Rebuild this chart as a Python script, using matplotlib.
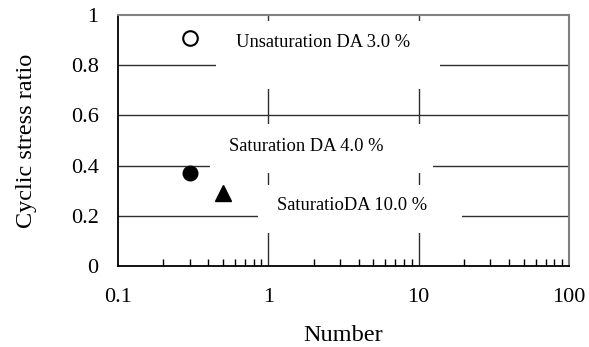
import matplotlib.pyplot as plt
from matplotlib.patches import Rectangle
from matplotlib.ticker import LogLocator, NullFormatter, FixedLocator

plt.rcParams['font.family'] = ['Liberation Serif', 'DejaVu Serif']

# data
unsat_n = [0.3]
unsat_csr = [0.91]
sat4_n = [0.3]
sat4_csr = [0.37]
sat10_n = [0.5]
sat10_csr = [0.29]

labels = ["Unsaturation DA 3.0 %", "Saturation DA 4.0 %", "SaturatioDA 10.0 %"]

fig = plt.figure(figsize=(5.89, 3.47), dpi=100)
ax = fig.add_axes([0.2003, 0.2334, 0.7657, 0.7234])

ax.set_xscale('log')
ax.set_xlim(0.1, 100)
ax.set_ylim(0, 1)

# grid
for y in [0.2, 0.4, 0.6, 0.8]:
    ax.axhline(y, color='#303030', lw=1.0, zorder=1)
for x in [1, 10]:
    ax.axvline(x, color='#303030', lw=1.0, zorder=1)

# white label boxes (axes fraction)
boxes = [(0.217, 0.707, 0.497, 0.271),
         (0.204, 0.371, 0.494, 0.195),
         (0.310, 0.131, 0.452, 0.191)]
for (bx, by, bw, bh) in boxes:
    ax.add_patch(Rectangle((bx, by), bw, bh, transform=ax.transAxes,
                           facecolor='white', edgecolor='none', zorder=2))

ax.text(0.4545, 0.892, labels[0], transform=ax.transAxes, ha='center', va='center', fontsize=13.3, zorder=3)
ax.text(0.417, 0.478, labels[1], transform=ax.transAxes, ha='center', va='center', fontsize=13.3, zorder=3)
ax.text(0.52, 0.243, labels[2], transform=ax.transAxes, ha='center', va='center', fontsize=13.3, zorder=3)

ax.plot(unsat_n, unsat_csr, 'o', ms=10.5, mfc='white', mec='black', mew=1.5, zorder=4, clip_on=False)
ax.plot(sat4_n, sat4_csr, 'o', ms=10.5, color='black', zorder=4)
ax.plot(sat10_n, sat10_csr, '^', ms=11, color='black', zorder=4)

# ticks
ax.xaxis.set_major_locator(FixedLocator([0.1, 1, 10, 100]))
ax.set_xticklabels(['0.1', '1', '10', '100'])
ax.xaxis.set_minor_locator(LogLocator(base=10, subs=range(2, 10)))
ax.xaxis.set_minor_formatter(NullFormatter())
ax.set_yticks([0, 0.2, 0.4, 0.6, 0.8, 1])
ax.set_yticklabels(['0', '0.2', '0.4', '0.6', '0.8', '1'])
ax.tick_params(axis='x', which='major', length=0, pad=16, labelsize=16)
ax.tick_params(axis='x', which='minor', direction='in', length=5, width=1, color='black')
ax.tick_params(axis='y', length=0, pad=14, labelsize=16)

for s in ['left', 'bottom']:
    ax.spines[s].set_color('black')
    ax.spines[s].set_linewidth(1.3)
for s in ['top', 'right']:
    ax.spines[s].set_color('#808080')
    ax.spines[s].set_linewidth(1.5)

ax.set_xlabel('Number', fontsize=17.5, labelpad=13)
ax.set_ylabel('Cyclic stress ratio', fontsize=17.5, labelpad=24)

fig.savefig('out.png', dpi=100)
